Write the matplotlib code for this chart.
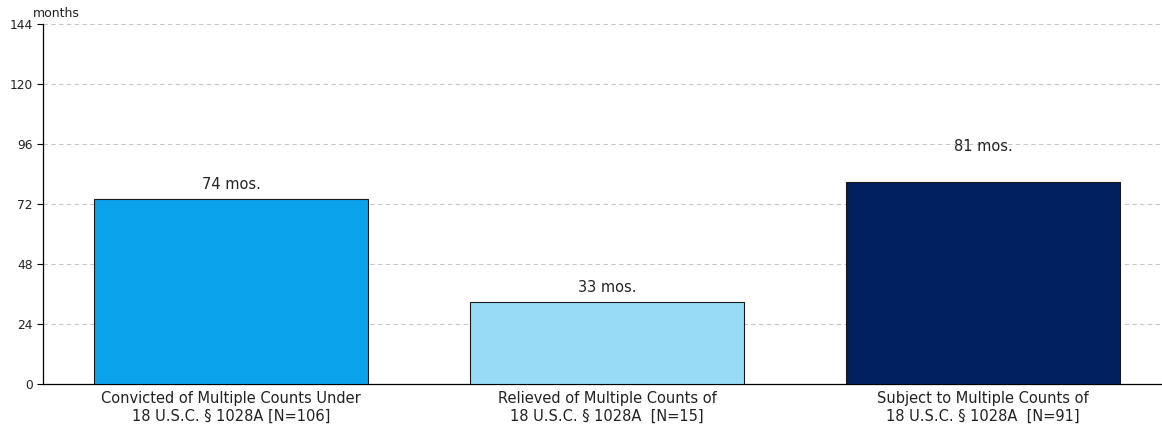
import matplotlib.pyplot as plt

categories = [
    "Convicted of Multiple Counts Under\n18 U.S.C. § 1028A [N=106]",
    "Relieved of Multiple Counts of\n18 U.S.C. § 1028A  [N=15]",
    "Subject to Multiple Counts of\n18 U.S.C. § 1028A  [N=91]",
]
months = [74, 33, 81]
value_labels = ["74 mos.", "33 mos.", "81 mos."]
colors = ["#0ba3ec", "#98dbf7", "#002060"]
y_ticks = [0, 24, 48, 72, 96, 120, 144]

plt.rcParams["font.family"] = ["DejaVu Sans"]

fig = plt.figure(figsize=(11.62, 4.30), dpi=100)
ax = fig.add_axes([0.037, 0.107, 0.963, 0.837])

x = range(len(categories))
bars = ax.bar(x, months, width=0.73, color=colors, edgecolor="#1a1a1a", linewidth=0.8, zorder=3)

# value labels above the bars; the last one sits higher
label_offsets = [5, 5, 20]
for bar, text, off in zip(bars, value_labels, label_offsets):
    ax.annotate(text, (bar.get_x() + bar.get_width() / 2, bar.get_height()),
                xytext=(0, off), textcoords="offset points",
                ha="center", va="bottom", fontsize=10.5, color="#222222")

ax.set_xlim(-0.5, 2.476)
ax.set_ylim(0, 144)
ax.set_yticks(y_ticks)
ax.set_xticks(list(x))
ax.set_xticklabels(categories, fontsize=10.5, color="#222222")
ax.tick_params(axis="x", length=0, pad=5)
ax.tick_params(axis="y", length=4, width=0.8, labelsize=8.8, labelcolor="#222222")

for y in y_ticks[1:]:
    ax.axhline(y, color="#c8c8c8", linestyle=(0, (4, 3)), linewidth=0.8, zorder=1)

for side in ["top", "right"]:
    ax.spines[side].set_visible(False)
ax.spines["left"].set_linewidth(0.9)
ax.spines["bottom"].set_linewidth(0.9)

ax.text(-0.009, 1.012, "months", transform=ax.transAxes, ha="left", va="bottom",
        fontsize=9, color="#222222")

fig.savefig("out.png", dpi=100)
